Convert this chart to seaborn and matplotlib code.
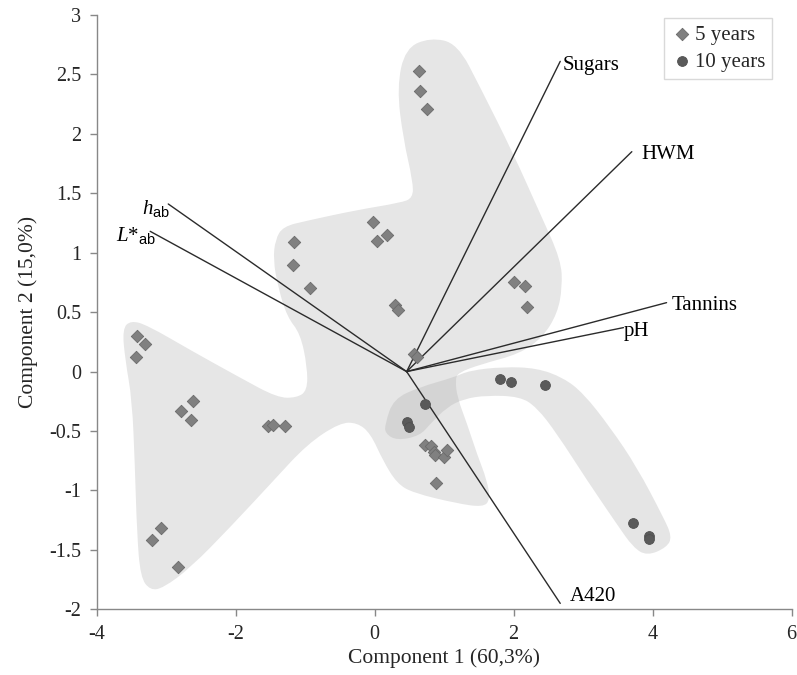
import numpy as np
import pandas as pd
import matplotlib
matplotlib.use("Agg")
import matplotlib.pyplot as plt
import seaborn as sns
from matplotlib.path import Path
from matplotlib.patches import PathPatch

# scores, 5 year old samples
pc1_5y = [0.64, 0.65, 0.76, -0.03, 0.04, 0.18, -1.16, -1.18, -0.93, 0.29, 0.34,
          2.01, 2.16, 2.19, 0.56, 0.61, -3.42, -3.30, -3.44, -2.62, -2.78, -2.64,
          -1.54, -1.46, -1.29, -3.07, -3.21, -2.83, 0.73, 0.81, 0.85, 0.87, 1.00,
          1.04, 0.88]
pc2_5y = [2.53, 2.36, 2.21, 1.26, 1.10, 1.15, 1.09, 0.90, 0.70, 0.56, 0.52,
          0.75, 0.72, 0.54, 0.15, 0.12, 0.30, 0.23, 0.12, -0.25, -0.33, -0.41,
          -0.46, -0.45, -0.46, -1.32, -1.42, -1.64, -0.62, -0.63, -0.68, -0.70, -0.72,
          -0.66, -0.94]

# scores, 10 year old samples
pc1_10y = [1.81, 1.96, 2.45, 0.72, 0.46, 0.50, 3.72, 3.95, 3.95]
pc2_10y = [-0.06, -0.09, -0.11, -0.27, -0.42, -0.47, -1.27, -1.38, -1.41]

# loadings (biplot vectors)
var_names = ["Sugars", "HWM", "Tannins", "pH", "A420", r"$h_{\mathsf{ab}}$", r"$L\mathrm{*}_{\mathsf{ab}}$"]
load_x = [2.67, 3.70, 4.20, 3.58, 2.67, -2.97, -3.23]
load_y = [2.61, 1.85, 0.58, 0.37, -1.95, 1.41, 1.18]
origin_x, origin_y = 0.46, 0.0

# hand drawn group outlines
blob5_x = [1.20, 1.52, 2.09, 2.42, 2.63, 2.70, 2.68, 2.38, 1.99, 1.52, 1.19, 0.80, 0.44,
           0.32, 0.41, 0.55, 0.55, 0.37, -0.25, -0.97, -1.32, -1.43, -1.46, -1.39, -1.26,
           -1.07, -0.97, -0.97, -1.12, -1.40, -1.94, -2.65, -3.27, -3.51, -3.63, -3.59,
           -3.49, -3.45, -3.42, -3.37, -3.23, -3.04, -2.65, -2.08, -1.46, -0.97, -0.50,
           -0.25, -0.06, 0.12, 0.32, 0.55, 1.19, 1.56, 1.66, 1.62, 1.47, 1.33, 1.19, 1.16]
blob5_y = [-0.01, 0.06, 0.15, 0.29, 0.49, 0.71, 0.94, 1.33, 1.84, 2.39, 2.76, 2.81, 2.72,
           2.39, 1.96, 1.60, 1.46, 1.42, 1.36, 1.27, 1.22, 1.11, 0.94, 0.71, 0.46,
           0.32, 0.04, -0.16, -0.22, -0.22, -0.05, 0.18, 0.39, 0.43, 0.36, 0.10,
           -0.24, -0.80, -1.36, -1.73, -1.84, -1.82, -1.65, -1.31, -0.92, -0.61, -0.43,
           -0.43, -0.52, -0.75, -0.94, -1.02, -1.11, -1.14, -1.08, -0.92, -0.69, -0.44, -0.22, -0.07]
blob10_x = [0.15, 0.27, 0.65, 1.13, 1.37, 1.85, 2.33, 2.71, 3.00, 3.39, 3.77, 4.15, 4.28,
            4.20, 3.92, 3.72, 3.48, 3.05, 2.62, 2.33, 2.09, 1.61, 1.28, 1.04, 0.80, 0.65,
            0.32, 0.15]
blob10_y = [-0.44, -0.23, -0.13, -0.05, 0.01, 0.04, 0.03, -0.05, -0.18, -0.47, -0.80, -1.22, -1.39,
            -1.48, -1.55, -1.48, -1.28, -0.91, -0.52, -0.30, -0.21, -0.20, -0.23, -0.30, -0.44, -0.54,
            -0.58, -0.52]


def blob(xs, ys):
    # closed quadratic b-spline through the outline
    pts = np.column_stack([xs, ys])
    mids = (pts + np.roll(pts, -1, axis=0)) / 2
    verts = [mids[-1]]
    codes = [Path.MOVETO]
    for i in range(len(pts)):
        verts += [pts[i], mids[i]]
        codes += [Path.CURVE3, Path.CURVE3]
    verts.append(mids[-1])
    codes.append(Path.CLOSEPOLY)
    return Path(verts, codes)


sns.set_style("ticks")
plt.rcParams['font.family'] = ['Liberation Serif', 'DejaVu Serif']
plt.rcParams['mathtext.fontset'] = 'custom'
plt.rcParams['mathtext.it'] = 'Liberation Serif:italic'
plt.rcParams['mathtext.rm'] = 'Liberation Serif'
plt.rcParams['mathtext.sf'] = 'Liberation Sans'
plt.rcParams['axes.unicode_minus'] = False

fig = plt.figure(figsize=(7.97, 6.75), dpi=100)
ax = fig.add_axes([0.1213, 0.0973, 0.872, 0.8805])

ax.add_patch(PathPatch(blob(blob5_x, blob5_y), facecolor='#e6e6e6', edgecolor='none', zorder=0))
ax.add_patch(PathPatch(blob(blob10_x, blob10_y), facecolor='#b0b0b0', alpha=0.32,
                       edgecolor='none', zorder=0.5))

df5 = pd.DataFrame({'pc1': pc1_5y, 'pc2': pc2_5y})
df10 = pd.DataFrame({'pc1': pc1_10y, 'pc2': pc2_10y})
sns.scatterplot(data=df5, x='pc1', y='pc2', marker='D', s=40, color='#808080',
                edgecolor='#6a6a6a', linewidth=0.6, label='5 years', ax=ax, zorder=3)
sns.scatterplot(data=df10, x='pc1', y='pc2', marker='o', s=50, color='#5a5a5a',
                edgecolor='#505050', linewidth=0.6, label='10 years', ax=ax, zorder=3)

# offsets (points) of each label from the end of its arrow
offsets = [(2, -3), (7, -2), (4, -2), (0, -3), (7, 5), (1, -3), (4, -3)]
aligns = ['left', 'left', 'left', 'left', 'left', 'right', 'right']
for name, lx, ly, off, ha in zip(var_names, load_x, load_y, offsets, aligns):
    ax.plot([origin_x, lx], [origin_y, ly], color='#2b2b2b', lw=1.0, zorder=2)
    ax.annotate(name, xy=(lx, ly), xytext=off, textcoords='offset points',
                ha=ha, va='center', fontsize=15, color='black')

ax.set_xlim(-4, 6)
ax.set_ylim(-2, 3)
ax.set_xticks(np.arange(-4, 7, 2))
ax.set_yticks(np.arange(-2, 3.01, 0.5))
ax.set_yticklabels([f"{v:g}" for v in np.arange(-2, 3.01, 0.5)])
ax.tick_params(labelsize=14.5, length=5, width=1, color='#888888', pad=6)
for sp in ['left', 'bottom']:
    ax.spines[sp].set_color('#888888')
    ax.spines[sp].set_linewidth(1)
sns.despine(ax=ax)
ax.set_xlabel('Component 1 (60,3%)', fontsize=15.5, labelpad=3)
ax.set_ylabel('Component 2 (15,0%)', fontsize=15.5, labelpad=8)

ax.legend(loc='upper right', bbox_to_anchor=(0.972, 0.995), fontsize=15,
          frameon=True, fancybox=False, edgecolor='#d9d9d9', framealpha=1,
          handletextpad=0.1, handlelength=1.0, borderpad=0.35, labelspacing=0.35,
          borderaxespad=0)

fig.savefig('out.png', dpi=100)
